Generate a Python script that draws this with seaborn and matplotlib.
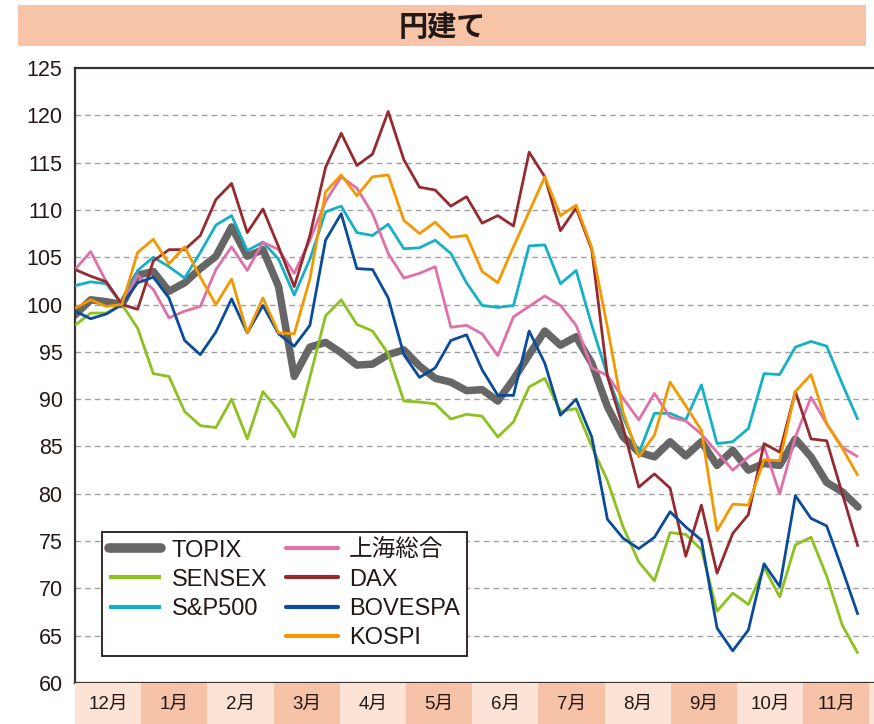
import matplotlib
matplotlib.use("Agg")
import matplotlib.pyplot as plt
from matplotlib.lines import Line2D
import numpy as np
import pandas as pd
import seaborn as sns

sns.set_theme(style="white")
plt.rcParams['font.family'] = ['Liberation Sans', 'Noto Sans CJK JP', 'DejaVu Sans']

title = "円建て"
months = ["12月", "1月", "2月", "3月", "4月", "5月", "6月", "7月", "8月", "9月", "10月", "11月"]
yticks = [60, 65, 70, 75, 80, 85, 90, 95, 100, 105, 110, 115, 120, 125]

topix = [98.9, 100.5, 100.3, 100.0, 103.1, 103.5, 101.4, 102.3, 103.8, 105.1, 108.2, 105.1, 105.8, 101.9, 92.4,
         95.5, 96.0, 94.9, 93.6, 93.7, 94.7, 95.2, 93.5, 92.2, 91.8, 90.9, 91.0, 89.8, 92.1, 94.7, 97.2, 95.7,
         96.6, 93.8, 89.2, 86.0, 84.4, 83.9, 85.5, 84.0, 85.5, 83.0, 84.6, 82.5, 83.2, 83.0, 85.8, 83.9, 81.2,
         80.2, 78.6]
sensex = [97.8, 99.1, 99.1, 100.0, 97.5, 92.7, 92.4, 88.7, 87.2, 87.0, 90.0, 85.8, 90.8, 88.8, 86.0, 92.3,
          98.8, 100.5, 97.9, 97.2, 94.8, 89.8, 89.7, 89.5, 87.9, 88.4, 88.2, 86.0, 87.6, 91.3, 92.2, 88.7, 89.0,
          85.0, 81.4, 76.5, 72.8, 70.8, 75.9, 75.7, 74.1, 67.6, 69.5, 68.3, 72.2, 69.1, 74.6, 75.4, 71.3, 66.1,
          63.1]
sp500 = [102.0, 102.4, 102.2, 100.0, 103.6, 105.0, 104.0, 102.8, 105.5, 108.4, 109.4, 105.7, 106.6, 104.8,
         101.0, 104.8, 109.8, 110.4, 107.6, 107.3, 108.5, 105.9, 106.0, 106.8, 105.4, 102.3, 99.9, 99.7, 99.9,
         106.2, 106.3, 102.2, 103.6, 97.8, 92.5, 88.1, 84.3, 88.5, 88.5, 87.8, 91.5, 85.3, 85.5, 86.9, 92.7,
         92.6, 95.5, 96.1, 95.6, 91.6, 87.8]
shanghai = [103.7, 105.6, 102.4, 100.0, 103.1, 101.6, 98.6, 99.3, 99.8, 103.7, 106.1, 103.6, 106.6, 105.8,
            103.3, 106.8, 110.9, 113.5, 112.3, 109.6, 105.4, 102.8, 103.3, 104.0, 97.6, 97.8, 96.9, 94.6, 98.7,
            99.8, 100.9, 99.9, 97.8, 93.3, 92.5, 90.1, 87.8, 90.6, 88.1, 87.7, 86.3, 84.4, 82.5, 83.9, 85.0,
            80.0, 86.0, 90.2, 87.4, 84.9, 83.9]
dax = [103.7, 103.0, 102.4, 100.0, 99.5, 104.6, 105.8, 105.8, 107.3, 111.1, 112.8, 107.6, 110.1, 106.1, 101.9,
       107.3, 114.5, 118.1, 114.7, 115.9, 120.4, 115.3, 112.4, 112.1, 110.4, 111.4, 108.6, 109.4, 108.3, 116.1,
       113.5, 107.8, 110.2, 105.8, 92.4, 87.0, 80.7, 82.1, 80.6, 73.4, 78.8, 71.6, 75.8, 77.8, 85.3, 84.4, 90.8,
       85.8, 85.6, 80.0, 74.4]
bovespa = [99.3, 98.5, 99.0, 100.0, 102.3, 102.9, 100.7, 96.2, 94.7, 97.1, 100.6, 97.0, 99.9, 96.9, 95.6, 97.8,
           106.8, 109.6, 103.8, 103.7, 100.7, 94.7, 92.3, 93.3, 96.2, 96.8, 93.1, 90.4, 90.4, 97.2, 93.8, 88.3,
           90.0, 86.0, 77.3, 75.3, 74.2, 75.4, 78.1, 76.5, 75.1, 65.8, 63.4, 65.6, 72.6, 70.2, 79.8, 77.4, 76.6,
           72.0, 67.2]
kospi = [99.6, 100.5, 99.8, 100.0, 105.5, 106.9, 104.3, 106.1, 102.9, 100.0, 102.7, 97.0, 100.7, 97.0, 96.9,
         102.7, 111.9, 113.7, 111.5, 113.5, 113.7, 108.9, 107.5, 108.7, 107.1, 107.3, 103.5, 102.3, 106.1, 109.8,
         113.5, 109.4, 110.5, 106.0, 97.6, 88.6, 83.9, 86.2, 91.8, 89.3, 86.7, 76.1, 78.9, 78.8, 83.6, 83.5, 90.8,
         92.6, 87.4, 84.8, 81.9]

series_names = ["TOPIX", "SENSEX", "S&P500", "上海総合", "DAX", "BOVESPA", "KOSPI"]
series_vals = [topix, sensex, sp500, shanghai, dax, bovespa, kospi]
colors = {"TOPIX": "#666666", "SENSEX": "#8cc21f", "S&P500": "#14b1c6", "上海総合": "#e070a8",
          "DAX": "#952a2f", "BOVESPA": "#0b4b9c", "KOSPI": "#f39800"}
widths = {"TOPIX": 5.4, "SENSEX": 2.0, "S&P500": 2.0, "上海総合": 2.0, "DAX": 2.0, "BOVESPA": 2.0, "KOSPI": 2.0}

W, H = 874, 724
fig = plt.figure(figsize=(W / 100, H / 100), dpi=100)

L, R, T, B = 75, 874, 68, 683
px_per_pt = 15.66
xmax = (R - L) / px_per_pt
month_w = 66.2 / px_per_pt

ax = fig.add_axes([L / W, (H - B) / H, (R - L) / W, (B - T) / H])

# title bar
tax = fig.add_axes([18 / W, (H - 46) / H, (866 - 18) / W, 41 / H])
tax.set_facecolor("#f7c4a8")
tax.set_xticks([]); tax.set_yticks([])
for s in tax.spines.values():
    s.set_visible(False)
tax.text(0.5, 0.46, title, ha="center", va="center", fontsize=21, fontweight="bold", color="#231815",
         family=['Noto Sans CJK JP', 'DejaVu Sans'], transform=tax.transAxes)

# month band
bax = fig.add_axes([L / W, 0, (R - L) / W, (H - B) / H])
bax.set_xlim(0, xmax); bax.set_ylim(0, 1)
for k in range(13):
    c = "#fde3d5" if k % 2 == 0 else "#f7c3a8"
    bax.axvspan(k * month_w, (k + 1) * month_w, color=c, lw=0)
for k, m in enumerate(months):
    bax.text((k + 0.5) * month_w, 0.48, m, ha="center", va="center", fontsize=13.5, color="#231815")
bax.set_xticks([]); bax.set_yticks([])
for s in bax.spines.values():
    s.set_visible(False)

rows = []
for name, vals in zip(series_names, series_vals):
    for i, v in enumerate(vals):
        rows.append({"week": i, "value": v, "index": name})
df = pd.DataFrame(rows)

for name in series_names:
    sub = df[df["index"] == name]
    sns.lineplot(data=sub, x="week", y="value", color=colors[name], linewidth=widths[name],
                 ax=ax, legend=False, solid_capstyle="round" if name == "TOPIX" else "butt",
                 zorder=2 if name == "TOPIX" else 3)

ax.set_xlim(0, xmax)
ax.set_ylim(60, 125)
ax.set_yticks(yticks)
ax.set_yticklabels([str(v) for v in yticks])
ax.set_xticks([k * month_w for k in range(1, 13)])
ax.set_xticklabels([])
ax.set_xlabel(""); ax.set_ylabel("")
for v in yticks[1:-1]:
    ax.axhline(v, color="#a0a0a0", lw=1.0, ls=(0, (4, 3)), zorder=1)
ax.tick_params(axis="y", direction="in", length=10, width=1.2, color="#3a3030", labelsize=15.5,
               labelcolor="#231815", pad=9)
ax.tick_params(axis="x", direction="in", length=7, width=1.2, color="#3a3030")
ax.grid(False)
for side in ["left", "top", "bottom"]:
    ax.spines[side].set_color("#3a3030")
    ax.spines[side].set_linewidth(1.6)
ax.spines["right"].set_visible(False)

handles = []
labels = []
for name in ["TOPIX", "SENSEX", "S&P500"]:
    handles.append(Line2D([], [], color=colors[name], lw=widths[name] + (1.5 if name == "TOPIX" else 1.0),
                          solid_capstyle="round" if name == "TOPIX" else "butt"))
    labels.append(name)
handles.append(Line2D([], [], color="none"))
labels.append("")
for name in ["上海総合", "DAX", "BOVESPA", "KOSPI"]:
    handles.append(Line2D([], [], color=colors[name], lw=widths[name] + 1.0))
    labels.append(name)
leg = ax.legend(handles, labels, ncol=2, loc="lower left", bbox_to_anchor=(0.034, 0.044),
                fontsize=17, frameon=True, fancybox=False, handlelength=2.2, handletextpad=0.45,
                columnspacing=0.8, labelspacing=0.3, borderpad=0.3, borderaxespad=0)
leg.get_frame().set_edgecolor("#231815")
leg.get_frame().set_linewidth(1.3)
leg.get_frame().set_facecolor("white")
leg.get_frame().set_alpha(1)
for t in leg.get_texts():
    t.set_color("#231815")

fig.savefig("out.png", dpi=100)
